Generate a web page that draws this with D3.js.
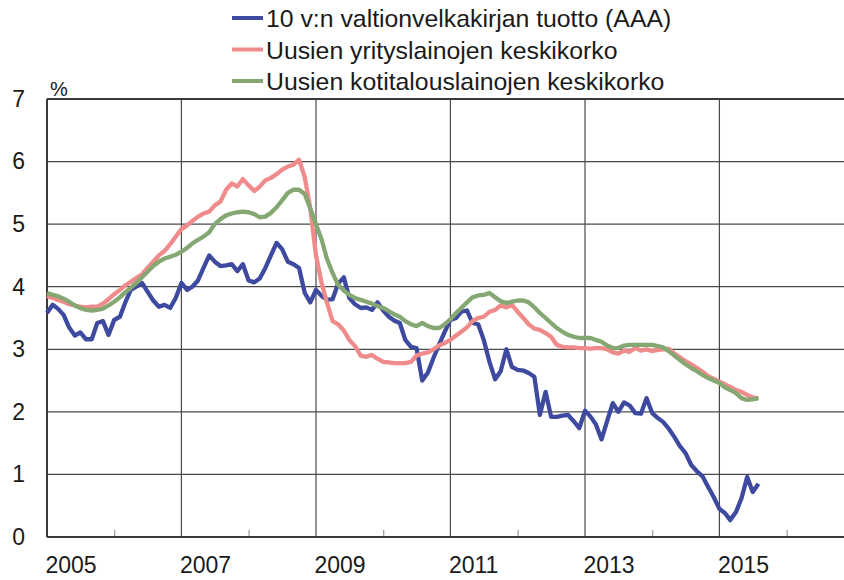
<!DOCTYPE html>
<html>
<head>
<meta charset="utf-8">
<script src="https://cdn.jsdelivr.net/npm/d3@7"></script>
<style>
  body { margin: 0; background: #fff; }
  svg { display: block; font-family: "Liberation Sans", Arial, sans-serif; }
</style>
</head>
<body>
<svg id="chart" width="844" height="580"></svg>
<script>
// Monthly series, first value = January 2005
const startYear = 2005;

const govBond = [
  3.58, 3.71, 3.65, 3.55, 3.35, 3.22, 3.27, 3.16, 3.16, 3.42, 3.45, 3.23,
  3.47, 3.52, 3.74, 3.95, 4.00, 4.06, 3.92, 3.78, 3.68, 3.71, 3.66, 3.82,
  4.06, 3.95, 4.00, 4.10, 4.30, 4.50, 4.40, 4.33, 4.34, 4.36, 4.25, 4.36,
  4.10, 4.07, 4.13, 4.30, 4.50, 4.70, 4.60, 4.40, 4.36, 4.30, 3.90, 3.75,
  3.95, 3.85, 3.79, 3.80, 4.05, 4.15, 3.82, 3.72, 3.66, 3.67, 3.63, 3.75,
  3.62, 3.52, 3.46, 3.42, 3.15, 3.04, 3.02, 2.50, 2.63, 2.86, 3.08, 3.28,
  3.47, 3.50, 3.60, 3.62, 3.42, 3.40, 3.15, 2.80, 2.52, 2.65, 3.00, 2.72,
  2.67, 2.66, 2.62, 2.56, 1.95, 2.32, 1.92, 1.92, 1.94, 1.95, 1.85, 1.74,
  2.02, 1.92, 1.80, 1.56, 1.85, 2.14, 2.00, 2.15, 2.10, 1.98, 1.97, 2.22,
  1.98, 1.90, 1.84, 1.73, 1.60, 1.45, 1.34, 1.15, 1.05, 0.97, 0.80, 0.64,
  0.45, 0.38, 0.27, 0.40, 0.62, 0.96, 0.72, 0.85
];

const corporateLoans = [
  3.85, 3.82, 3.79, 3.76, 3.72, 3.70, 3.68, 3.67, 3.68, 3.68, 3.73, 3.80,
  3.88, 3.95, 4.02, 4.08, 4.14, 4.20, 4.30, 4.40, 4.50, 4.57, 4.68, 4.80,
  4.92, 4.98, 5.05, 5.12, 5.17, 5.20, 5.30, 5.36, 5.55, 5.65, 5.60, 5.72,
  5.62, 5.53, 5.60, 5.70, 5.74, 5.80, 5.87, 5.92, 5.95, 6.03, 5.75, 5.25,
  4.50, 4.05, 3.75, 3.45, 3.40, 3.30, 3.15, 3.05, 2.90, 2.88, 2.91, 2.85,
  2.80, 2.79, 2.78, 2.78, 2.78, 2.80, 2.90, 2.93, 2.95, 3.00, 3.06, 3.10,
  3.15, 3.22, 3.28, 3.35, 3.45, 3.50, 3.52, 3.60, 3.63, 3.70, 3.67, 3.71,
  3.60, 3.50, 3.40, 3.33, 3.31, 3.26, 3.20, 3.07, 3.04, 3.03, 3.03, 3.02,
  3.02, 3.01, 3.02, 3.02, 3.00, 2.95, 2.93, 2.98, 2.96, 3.02, 2.98, 3.00,
  2.97, 2.99, 3.00, 3.01, 2.93, 2.87, 2.81, 2.76, 2.70, 2.64, 2.57, 2.53,
  2.48, 2.44, 2.40, 2.35, 2.32, 2.27, 2.23, 2.21
];

const householdLoans = [
  3.90, 3.87, 3.85, 3.81, 3.76, 3.70, 3.66, 3.63, 3.62, 3.63, 3.65, 3.70,
  3.76, 3.83, 3.91, 3.98, 4.06, 4.15, 4.24, 4.33, 4.40, 4.45, 4.48, 4.51,
  4.56, 4.62, 4.69, 4.75, 4.80, 4.87, 5.00, 5.08, 5.14, 5.17, 5.19, 5.20,
  5.19, 5.16, 5.11, 5.12, 5.18, 5.27, 5.38, 5.50, 5.55, 5.55, 5.48, 5.25,
  5.00, 4.75, 4.45, 4.22, 4.03, 3.94, 3.87, 3.82, 3.79, 3.76, 3.73, 3.69,
  3.66, 3.61, 3.56, 3.52, 3.45, 3.40, 3.37, 3.42, 3.37, 3.34, 3.34, 3.40,
  3.48, 3.58, 3.66, 3.75, 3.83, 3.86, 3.87, 3.90, 3.83, 3.77, 3.74, 3.76,
  3.78, 3.78, 3.75, 3.67, 3.58, 3.50, 3.42, 3.34, 3.28, 3.23, 3.20, 3.18,
  3.18, 3.18, 3.15, 3.12, 3.06, 3.02, 3.02, 3.06, 3.07, 3.07, 3.07, 3.07,
  3.07, 3.05, 3.03, 2.97, 2.90, 2.83, 2.76, 2.70, 2.65, 2.59, 2.54, 2.50,
  2.46, 2.39, 2.35, 2.30, 2.22, 2.19, 2.20, 2.22
];

const seriesNames = [
  "10 v:n valtionvelkakirjan tuotto (AAA)",
  "Uusien yrityslainojen keskikorko",
  "Uusien kotitalouslainojen keskikorko"
];
const seriesColors = ["#3e4a9f", "#f08b8b", "#85a872"];
const yTicks = [0, 1, 2, 3, 4, 5, 6, 7];
const labelYears = [2005, 2007, 2009, 2011, 2013, 2015];
const gridYears = [2007, 2009, 2011, 2013, 2015, 2017];
const minorYears = [2006, 2008, 2010, 2012, 2014, 2016];

const svg = d3.select("#chart");
const plotLeft = 47, plotRight = 854, plotTop = 99, plotBottom = 537;

const x = d3.scaleTime()
  .domain([new Date(2005, 0, 1), new Date(2017, 0, 1)])
  .range([plotLeft, plotRight]);
const y = d3.scaleLinear().domain([0, 7]).range([plotBottom, plotTop]);

const monthDate = (i) => new Date(startYear, i, 1);

// grid
const grid = svg.append("g");
grid.selectAll(".hgrid")
  .data(yTicks.filter((d) => d > 0 && d < 7))
  .join("line")
  .attr("x1", plotLeft).attr("x2", 844)
  .attr("y1", (d) => y(d)).attr("y2", (d) => y(d))
  .attr("stroke", "#4a4a4a").attr("stroke-width", 1.2);
grid.selectAll(".vgrid")
  .data(gridYears)
  .join("line")
  .attr("x1", (d) => x(new Date(d, 0, 1))).attr("x2", (d) => x(new Date(d, 0, 1)))
  .attr("y1", plotTop).attr("y2", plotBottom)
  .attr("stroke", "#4a4a4a").attr("stroke-width", 1.2);

// minor ticks on the x axis
svg.append("g")
  .attr("transform", `translate(0,${plotBottom})`)
  .call(d3.axisBottom(x)
    .tickValues(minorYears.map((d) => new Date(d, 0, 1)))
    .tickSize(-7)
    .tickFormat(""))
  .call((g) => g.select(".domain").remove())
  .call((g) => g.selectAll("line").attr("stroke", "#999").attr("stroke-width", 1.2));

// x labels
svg.append("g")
  .attr("transform", `translate(0,${plotBottom})`)
  .call(d3.axisBottom(x)
    .tickValues(labelYears.map((d) => new Date(d, 0, 1)))
    .tickSize(0)
    .tickPadding(20)
    .tickFormat(d3.timeFormat("%Y")))
  .call((g) => g.select(".domain").remove())
  .call((g) => g.selectAll("text")
    .attr("text-anchor", "start")
    .attr("dx", -2)
    .attr("font-size", 23)
    .attr("font-family", "Liberation Sans, Arial, sans-serif")
    .attr("fill", "#1a1a1a"));

// y labels
svg.append("g")
  .attr("transform", `translate(${plotLeft},0)`)
  .call(d3.axisLeft(y).tickValues(yTicks).tickSize(0).tickPadding(22).tickFormat(d3.format("d")))
  .call((g) => g.select(".domain").remove())
  .call((g) => g.selectAll("text")
    .attr("font-size", 23)
    .attr("font-family", "Liberation Sans, Arial, sans-serif")
    .attr("fill", "#1a1a1a"));

svg.append("text")
  .attr("x", 50).attr("y", 96)
  .attr("font-size", 20)
  .attr("fill", "#1a1a1a")
  .text("%");

// frame
svg.append("line").attr("x1", plotLeft).attr("x2", 844).attr("y1", plotTop).attr("y2", plotTop)
  .attr("stroke", "#3a3a3a").attr("stroke-width", 2);
svg.append("line").attr("x1", plotLeft).attr("x2", 844).attr("y1", plotBottom).attr("y2", plotBottom)
  .attr("stroke", "#3a3a3a").attr("stroke-width", 2);
svg.append("line").attr("x1", plotLeft).attr("x2", plotLeft).attr("y1", plotTop).attr("y2", plotBottom)
  .attr("stroke", "#3a3a3a").attr("stroke-width", 2);

// lines
const line = d3.line()
  .x((d, i) => x(monthDate(i)))
  .y((d) => y(d));

[govBond, corporateLoans, householdLoans].forEach((values, k) => {
  svg.append("path")
    .datum(values)
    .attr("fill", "none")
    .attr("stroke", seriesColors[k])
    .attr("stroke-width", 4.3)
    .attr("stroke-linejoin", "round")
    .attr("d", line);
});

// legend
const legend = svg.append("g").attr("transform", "translate(232,18)");
seriesNames.forEach((name, k) => {
  const row = legend.append("g").attr("transform", `translate(0,${k * 31.5})`);
  row.append("line")
    .attr("x1", 0).attr("x2", 31).attr("y1", 0).attr("y2", 0)
    .attr("stroke", seriesColors[k]).attr("stroke-width", 4);
  row.append("text")
    .attr("x", 34).attr("y", 9)
    .attr("font-size", 24.8)
    .attr("fill", "#1a1a1a")
    .text(name);
});
</script>
</body>
</html>
